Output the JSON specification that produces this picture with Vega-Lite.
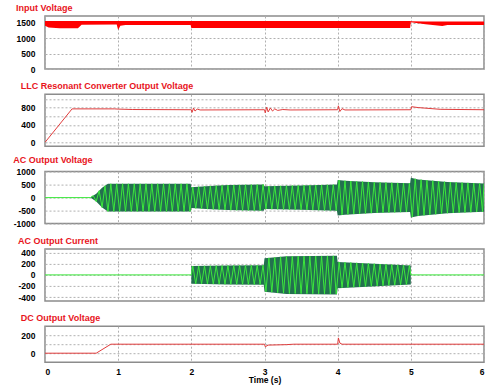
{
  "$schema": "https://vega.github.io/schema/vega-lite/v6.json",
  "padding": {"left": 12, "top": 3, "right": 0, "bottom": 0},
  "spacing": 25.3,
  "bounds": "flush",
  "config": {
    "view": {"stroke": "#8c8c8c", "strokeWidth": 1.5},
    "title": {"anchor": "start", "color": "#e8141c", "fontSize": 9, "fontWeight": "bold", "font": "Liberation Sans", "offset": 3},
    "axis": {"labelFont": "Liberation Sans", "labelFontWeight": "bold", "labelFontSize": 8.5, "labelColor": "#000", "labelOverlap": false, "labelExpr": "'' + datum.value", "ticks": false, "domain": false, "gridColor": "#b0b0b0", "gridDash": [2, 2], "gridWidth": 1, "labelPadding": 10, "title": null, "titleFont": "Liberation Sans", "titleFontWeight": "bold", "titleFontSize": 8.5, "titleColor": "#000"}
  },
  "datasets": {
    "vin": [
      {"t": 0, "lo": 1400, "hi": 1555}, {"t": 0.05, "lo": 1340, "hi": 1555}, {"t": 0.2, "lo": 1320, "hi": 1555},
      {"t": 0.45, "lo": 1320, "hi": 1555}, {"t": 0.5, "lo": 1430, "hi": 1555}, {"t": 0.98, "lo": 1440, "hi": 1555},
      {"t": 1.0, "lo": 1260, "hi": 1555}, {"t": 1.03, "lo": 1400, "hi": 1555}, {"t": 1.1, "lo": 1420, "hi": 1550},
      {"t": 1.99, "lo": 1420, "hi": 1550}, {"t": 2.0, "lo": 1330, "hi": 1555}, {"t": 4.99, "lo": 1330, "hi": 1555},
      {"t": 5.0, "lo": 1510, "hi": 1545}, {"t": 5.2, "lo": 1450, "hi": 1540}, {"t": 5.43, "lo": 1390, "hi": 1540},
      {"t": 5.5, "lo": 1420, "hi": 1540}, {"t": 6, "lo": 1420, "hi": 1540}
    ],
    "llc": [
      {"t": 0, "v": 0}, {"t": 0.37, "v": 770}, {"t": 0.95, "v": 770}, {"t": 1.0, "v": 765}, {"t": 1.2, "v": 755},
      {"t": 2.0, "v": 750}, {"t": 2.01, "v": 690}, {"t": 2.03, "v": 790}, {"t": 2.05, "v": 720}, {"t": 2.08, "v": 765}, {"t": 2.12, "v": 745},
      {"t": 3.0, "v": 750}, {"t": 3.01, "v": 680}, {"t": 3.03, "v": 810}, {"t": 3.05, "v": 700}, {"t": 3.08, "v": 790},
      {"t": 3.11, "v": 720}, {"t": 3.14, "v": 770}, {"t": 3.18, "v": 735}, {"t": 3.25, "v": 755}, {"t": 3.35, "v": 745},
      {"t": 4.0, "v": 750}, {"t": 4.01, "v": 840}, {"t": 4.03, "v": 710}, {"t": 4.06, "v": 775}, {"t": 4.1, "v": 745},
      {"t": 5.0, "v": 750}, {"t": 5.01, "v": 820}, {"t": 5.1, "v": 800}, {"t": 5.4, "v": 760}, {"t": 6, "v": 750}
    ],
    "vacEnv": [
      {"t": 0.62, "lo": 0, "hi": 0}, {"t": 0.7, "lo": -150, "hi": 150}, {"t": 0.78, "lo": -380, "hi": 380},
      {"t": 0.86, "lo": -530, "hi": 530}, {"t": 1.99, "lo": -530, "hi": 530}, {"t": 2.0, "lo": -400, "hi": 400},
      {"t": 2.2, "lo": -440, "hi": 440}, {"t": 2.5, "lo": -480, "hi": 480}, {"t": 2.99, "lo": -510, "hi": 505},
      {"t": 3.0, "lo": -440, "hi": 440}, {"t": 3.5, "lo": -470, "hi": 470}, {"t": 3.99, "lo": -505, "hi": 500},
      {"t": 4.0, "lo": -690, "hi": 680}, {"t": 4.1, "lo": -660, "hi": 650}, {"t": 4.5, "lo": -595, "hi": 590},
      {"t": 4.99, "lo": -555, "hi": 550}, {"t": 5.0, "lo": -765, "hi": 760}, {"t": 5.1, "lo": -705, "hi": 700},
      {"t": 5.5, "lo": -605, "hi": 600}, {"t": 6, "lo": -545, "hi": 540}
    ],
    "vac": [
      {"t": 0, "v": 0}, {"t": 0.62, "v": 0}, {"t": 0.66, "v": 75}, {"t": 0.7, "v": -150}, {"t": 0.74, "v": 265},
      {"t": 0.78, "v": -380}, {"t": 0.82, "v": 455}, {"t": 0.86, "v": -530}, {"t": 0.9, "v": 530}, {"t": 0.94, "v": -530},
      {"t": 0.98, "v": 530}, {"t": 1.02, "v": -530}, {"t": 1.06, "v": 530}, {"t": 1.1, "v": -530}, {"t": 1.14, "v": 530},
      {"t": 1.18, "v": -530}, {"t": 1.22, "v": 530}, {"t": 1.26, "v": -530}, {"t": 1.3, "v": 530}, {"t": 1.34, "v": -530},
      {"t": 1.38, "v": 530}, {"t": 1.42, "v": -530}, {"t": 1.46, "v": 530}, {"t": 1.5, "v": -530}, {"t": 1.54, "v": 530},
      {"t": 1.58, "v": -530}, {"t": 1.62, "v": 530}, {"t": 1.66, "v": -530}, {"t": 1.7, "v": 530}, {"t": 1.74, "v": -530},
      {"t": 1.78, "v": 530}, {"t": 1.82, "v": -530}, {"t": 1.86, "v": 530}, {"t": 1.9, "v": -530}, {"t": 1.94, "v": 530},
      {"t": 1.98, "v": -530}, {"t": 2.02, "v": 404}, {"t": 2.06, "v": -412}, {"t": 2.1, "v": 420}, {"t": 2.14, "v": -428},
      {"t": 2.18, "v": 436}, {"t": 2.22, "v": -443}, {"t": 2.26, "v": 448}, {"t": 2.3, "v": -453}, {"t": 2.34, "v": 459},
      {"t": 2.38, "v": -464}, {"t": 2.42, "v": 469}, {"t": 2.46, "v": -475}, {"t": 2.5, "v": 480}, {"t": 2.54, "v": -482},
      {"t": 2.58, "v": 484}, {"t": 2.62, "v": -486}, {"t": 2.66, "v": 488}, {"t": 2.7, "v": -490}, {"t": 2.74, "v": 492},
      {"t": 2.78, "v": -494}, {"t": 2.82, "v": 496}, {"t": 2.86, "v": -498}, {"t": 2.9, "v": 500}, {"t": 2.94, "v": -502},
      {"t": 2.98, "v": 504}, {"t": 3.02, "v": -441}, {"t": 3.06, "v": 444}, {"t": 3.1, "v": -446}, {"t": 3.14, "v": 448},
      {"t": 3.18, "v": -451}, {"t": 3.22, "v": 453}, {"t": 3.26, "v": -456}, {"t": 3.3, "v": 458}, {"t": 3.34, "v": -460},
      {"t": 3.38, "v": 463}, {"t": 3.42, "v": -465}, {"t": 3.46, "v": 468}, {"t": 3.5, "v": -470}, {"t": 3.54, "v": 472},
      {"t": 3.58, "v": -475}, {"t": 3.62, "v": 477}, {"t": 3.66, "v": -480}, {"t": 3.7, "v": 482}, {"t": 3.74, "v": -485},
      {"t": 3.78, "v": 487}, {"t": 3.82, "v": -490}, {"t": 3.86, "v": 492}, {"t": 3.9, "v": -495}, {"t": 3.94, "v": 497},
      {"t": 3.98, "v": -499}, {"t": 4.02, "v": 674}, {"t": 4.06, "v": -662}, {"t": 4.1, "v": 650}, {"t": 4.14, "v": -644},
      {"t": 4.18, "v": 638}, {"t": 4.22, "v": -632}, {"t": 4.26, "v": 626}, {"t": 4.3, "v": -620}, {"t": 4.34, "v": 614},
      {"t": 4.38, "v": -608}, {"t": 4.42, "v": 602}, {"t": 4.46, "v": -596}, {"t": 4.5, "v": 590}, {"t": 4.54, "v": -587},
      {"t": 4.58, "v": 583}, {"t": 4.62, "v": -580}, {"t": 4.66, "v": 577}, {"t": 4.7, "v": -574}, {"t": 4.74, "v": 570},
      {"t": 4.78, "v": -567}, {"t": 4.82, "v": 564}, {"t": 4.86, "v": -560}, {"t": 4.9, "v": 557}, {"t": 4.94, "v": -554},
      {"t": 4.98, "v": 551}, {"t": 5.02, "v": -748}, {"t": 5.06, "v": 724}, {"t": 5.1, "v": -700}, {"t": 5.14, "v": 690},
      {"t": 5.18, "v": -680}, {"t": 5.22, "v": 670}, {"t": 5.26, "v": -660}, {"t": 5.3, "v": 650}, {"t": 5.34, "v": -640},
      {"t": 5.38, "v": 630}, {"t": 5.42, "v": -620}, {"t": 5.46, "v": 610}, {"t": 5.5, "v": -600}, {"t": 5.54, "v": 597},
      {"t": 5.58, "v": -590}, {"t": 5.62, "v": 586}, {"t": 5.66, "v": -581}, {"t": 5.7, "v": 576}, {"t": 5.74, "v": -571},
      {"t": 5.78, "v": 566}, {"t": 5.82, "v": -562}, {"t": 5.86, "v": 557}, {"t": 5.9, "v": -552}, {"t": 5.94, "v": 547},
      {"t": 5.98, "v": -542}, {"t": 6.0, "v": 540}
    ],
    "iacEnv": [
      {"t": 2.0, "lo": -160, "hi": 160}, {"t": 2.5, "lo": -172, "hi": 170}, {"t": 2.99, "lo": -178, "hi": 175},
      {"t": 3.0, "lo": -305, "hi": 300}, {"t": 3.3, "lo": -345, "hi": 335}, {"t": 3.99, "lo": -355, "hi": 345},
      {"t": 4.0, "lo": -242, "hi": 235}, {"t": 5.0, "lo": -175, "hi": 170}
    ],
    "iac": [
      {"t": 0, "v": 0}, {"t": 2.0, "v": 0}, {"t": 2.02, "v": 161}, {"t": 2.06, "v": -162}, {"t": 2.1, "v": 162},
      {"t": 2.14, "v": -163}, {"t": 2.18, "v": 164}, {"t": 2.22, "v": -164}, {"t": 2.26, "v": 165}, {"t": 2.3, "v": -166},
      {"t": 2.34, "v": 167}, {"t": 2.38, "v": -168}, {"t": 2.42, "v": 168}, {"t": 2.46, "v": -169}, {"t": 2.5, "v": 170},
      {"t": 2.54, "v": -170}, {"t": 2.58, "v": 171}, {"t": 2.62, "v": -171}, {"t": 2.66, "v": 172}, {"t": 2.7, "v": -172},
      {"t": 2.74, "v": 172}, {"t": 2.78, "v": -173}, {"t": 2.82, "v": 173}, {"t": 2.86, "v": -174}, {"t": 2.9, "v": 174},
      {"t": 2.94, "v": -175}, {"t": 2.98, "v": 175}, {"t": 3.02, "v": -302}, {"t": 3.06, "v": 307}, {"t": 3.1, "v": -312},
      {"t": 3.14, "v": 316}, {"t": 3.18, "v": -321}, {"t": 3.22, "v": 326}, {"t": 3.26, "v": -330}, {"t": 3.3, "v": 335},
      {"t": 3.34, "v": -336}, {"t": 3.38, "v": 336}, {"t": 3.42, "v": -337}, {"t": 3.46, "v": 337}, {"t": 3.5, "v": -338},
      {"t": 3.54, "v": 338}, {"t": 3.58, "v": -339}, {"t": 3.62, "v": 339}, {"t": 3.66, "v": -340}, {"t": 3.7, "v": 340},
      {"t": 3.74, "v": -341}, {"t": 3.78, "v": 342}, {"t": 3.82, "v": -342}, {"t": 3.86, "v": 343}, {"t": 3.9, "v": -344},
      {"t": 3.94, "v": 344}, {"t": 3.98, "v": -345}, {"t": 4.02, "v": 234}, {"t": 4.06, "v": -231}, {"t": 4.1, "v": 228},
      {"t": 4.14, "v": -226}, {"t": 4.18, "v": 223}, {"t": 4.22, "v": -221}, {"t": 4.26, "v": 218}, {"t": 4.3, "v": -215},
      {"t": 4.34, "v": 213}, {"t": 4.38, "v": -210}, {"t": 4.42, "v": 208}, {"t": 4.46, "v": -205}, {"t": 4.5, "v": 202},
      {"t": 4.54, "v": -200}, {"t": 4.58, "v": 197}, {"t": 4.62, "v": -195}, {"t": 4.66, "v": 192}, {"t": 4.7, "v": -189},
      {"t": 4.74, "v": 187}, {"t": 4.78, "v": -184}, {"t": 4.82, "v": 182}, {"t": 4.86, "v": -179}, {"t": 4.9, "v": 176},
      {"t": 4.94, "v": -174}, {"t": 4.98, "v": 171}, {"t": 5.0, "v": 0}, {"t": 6.0, "v": 0}
    ],
    "vdc": [
      {"t": 0, "v": 0}, {"t": 0.7, "v": 0}, {"t": 0.9, "v": 100}, {"t": 3.0, "v": 100}, {"t": 3.01, "v": 72},
      {"t": 3.05, "v": 90}, {"t": 3.3, "v": 95}, {"t": 3.4, "v": 100}, {"t": 4.0, "v": 100}, {"t": 4.01, "v": 170},
      {"t": 4.03, "v": 112}, {"t": 4.06, "v": 100}, {"t": 6, "v": 100}
    ]
  },
  "vconcat": [
    {
      "title": "Input Voltage",
      "width": 439, "height": 53,
      "data": {"name": "vin"},
      "mark": {"type": "area", "color": "#ff0000", "clip": true},
      "encoding": {
        "x": {"field": "t", "type": "quantitative", "scale": {"domain": [0, 6], "nice": false}, "axis": {"labels": false, "values": [0, 1, 2, 3, 4, 5, 6]}},
        "y": {"field": "lo", "type": "quantitative", "scale": {"domain": [0, 1715], "nice": false, "zero": false}, "axis": {"values": [0, 500, 1000, 1500]}},
        "y2": {"field": "hi"}
      }
    },
    {
      "title": "LLC Resonant Converter Output Voltage",
      "width": 439, "height": 52,
      "data": {"name": "llc"},
      "mark": {"type": "line", "color": "#e03c3c", "strokeWidth": 1, "clip": true},
      "encoding": {
        "x": {"field": "t", "type": "quantitative", "scale": {"domain": [0, 6], "nice": false}, "axis": {"labels": false, "values": [0, 1, 2, 3, 4, 5, 6]}},
        "y": {"field": "v", "type": "quantitative", "scale": {"domain": [-90, 1105], "nice": false, "zero": false}, "axis": {"values": [0, 200, 400, 600, 800, 1000], "labelExpr": "datum.value % 400 == 0 ? '' + datum.value : ''"}}
      }
    },
    {
      "title": "AC Output Voltage",
      "width": 439, "height": 52,
      "layer": [
        {
          "data": {"name": "vacEnv"},
          "mark": {"type": "area", "color": "#23704f", "clip": true},
          "encoding": {
            "x": {"field": "t", "type": "quantitative", "scale": {"domain": [0, 6], "nice": false}, "axis": {"labels": false, "values": [0, 1, 2, 3, 4, 5, 6]}},
            "y": {"field": "lo", "type": "quantitative", "scale": {"domain": [-1000, 1000], "nice": false}, "axis": {"values": [-1000, -500, 0, 500, 1000]}},
            "y2": {"field": "hi"}
          }
        },
        {
          "data": {"name": "vac"},
          "mark": {"type": "line", "color": "#3be83b", "strokeWidth": 1, "clip": true},
          "encoding": {
            "x": {"field": "t", "type": "quantitative", "scale": {"domain": [0, 6], "nice": false}, "axis": {"labels": false, "values": [0, 1, 2, 3, 4, 5, 6]}},
            "y": {"field": "v", "type": "quantitative", "scale": {"domain": [-1000, 1000], "nice": false}, "axis": {"values": [-1000, -500, 0, 500, 1000]}}
          }
        }
      ]
    },
    {
      "title": "AC Output Current",
      "width": 439, "height": 52,
      "layer": [
        {
          "data": {"name": "iacEnv"},
          "mark": {"type": "area", "color": "#23704f", "clip": true},
          "encoding": {
            "x": {"field": "t", "type": "quantitative", "scale": {"domain": [0, 6], "nice": false}, "axis": {"labels": false, "values": [0, 1, 2, 3, 4, 5, 6]}},
            "y": {"field": "lo", "type": "quantitative", "scale": {"domain": [-470, 470], "nice": false}, "axis": {"values": [-400, -200, 0, 200, 400]}},
            "y2": {"field": "hi"}
          }
        },
        {
          "data": {"name": "iac"},
          "mark": {"type": "line", "color": "#3be83b", "strokeWidth": 1, "clip": true},
          "encoding": {
            "x": {"field": "t", "type": "quantitative", "scale": {"domain": [0, 6], "nice": false}, "axis": {"labels": false, "values": [0, 1, 2, 3, 4, 5, 6]}},
            "y": {"field": "v", "type": "quantitative", "scale": {"domain": [-470, 470], "nice": false}, "axis": {"values": [-400, -200, 0, 200, 400]}}
          }
        }
      ]
    },
    {
      "title": "DC Output Voltage",
      "width": 439, "height": 36,
      "data": {"name": "vdc"},
      "mark": {"type": "line", "color": "#e03c3c", "strokeWidth": 1, "clip": true},
      "encoding": {
        "x": {"field": "t", "type": "quantitative", "scale": {"domain": [0, 6], "nice": false}, "axis": {"values": [0, 1, 2, 3, 4, 5, 6], "title": "Time (s)", "labelPadding": 5, "titlePadding": 0}},
        "y": {"field": "v", "type": "quantitative", "scale": {"domain": [-100, 300], "nice": false, "zero": false}, "axis": {"values": [0, 100, 200], "labelExpr": "datum.value % 200 == 0 ? '' + datum.value : ''"}}
      }
    }
  ]
}
